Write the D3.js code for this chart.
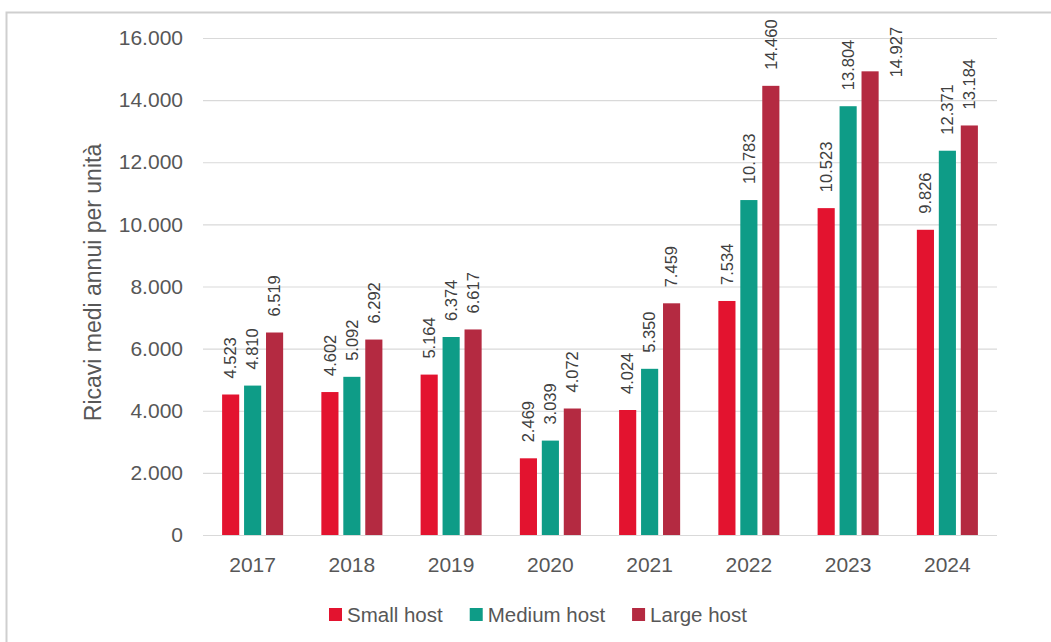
<!DOCTYPE html>
<html>
<head>
<meta charset="utf-8">
<script src="https://cdn.jsdelivr.net/npm/d3@7"></script>
<style>
  html, body { margin: 0; padding: 0; background: #fff; }
  svg { display: block; font-family: "Liberation Sans", Arial, Helvetica, sans-serif; }
</style>
</head>
<body>
<svg id="chart" width="1051" height="642"></svg>
<script>
const years = ["2017", "2018", "2019", "2020", "2021", "2022", "2023", "2024"];
const seriesNames = ["Small host", "Medium host", "Large host"];
const smallHost  = [4523, 4602, 5164, 2469, 4024, 7534, 10523, 9826];
const mediumHost = [4810, 5092, 6374, 3039, 5350, 10783, 13804, 12371];
const largeHost  = [6519, 6292, 6617, 4072, 7459, 14460, 14927, 13184];
const yTicks = [0, 2000, 4000, 6000, 8000, 10000, 12000, 14000, 16000];
const yTitle = "Ricavi medi annui per unità";
const colors = ["#E3132F", "#0E9C87", "#B42A41"];

const seriesValues = [smallHost, mediumHost, largeHost];

const svg = d3.select("#chart");
const W = 1051, H = 642;
const plot = { left: 203, right: 997, top: 38, bottom: 535 };

// outer frame
svg.append("rect")
  .attr("x", 6.5).attr("y", 12.5)
  .attr("width", W + 50).attr("height", H + 50)
  .attr("fill", "none").attr("stroke", "#cfcfcf").attr("stroke-width", 2);

const fmt = v => d3.format(",")(v).replace(/,/g, ".");

const y = d3.scaleLinear().domain([0, 16000]).range([plot.bottom, plot.top]);
const x0 = d3.scaleBand().domain(years).range([plot.left, plot.right]).paddingInner(0.385).paddingOuter(0.1925);
const x1 = d3.scaleBand().domain(seriesNames).range([0, x0.bandwidth()]).paddingInner(0.22);

// gridlines
const yAxis = d3.axisLeft(y).tickValues(yTicks).tickSize(-(plot.right - plot.left)).tickPadding(20).tickFormat(fmt);
const gy = svg.append("g").attr("transform", `translate(${plot.left},0)`).call(yAxis);
gy.select(".domain").remove();
gy.selectAll(".tick line").attr("stroke", "#d9d9d9").attr("stroke-width", 1.2);
gy.selectAll(".tick text").attr("fill", "#575757").attr("font-size", 21);

// x axis labels
const xAxis = d3.axisBottom(x0).tickSize(0).tickPadding(22);
const gx = svg.append("g").attr("transform", `translate(0,${plot.bottom})`).call(xAxis);
gx.select(".domain").remove();
gx.selectAll(".tick text").attr("fill", "#575757").attr("font-size", 21);

// y title
svg.append("text")
  .attr("transform", `translate(101,${(plot.top + plot.bottom) / 2 - 4}) rotate(-90)`)
  .attr("text-anchor", "middle")
  .attr("fill", "#575757").attr("font-size", 23)
  .text(yTitle);

// bars
const data = [];
years.forEach((yr, i) => {
  seriesNames.forEach((s, j) => {
    data.push({ year: yr, series: s, value: seriesValues[j][i], j });
  });
});

svg.append("g").selectAll("rect").data(data).join("rect")
  .attr("x", d => x0(d.year) + x1(d.series))
  .attr("y", d => y(d.value))
  .attr("width", x1.bandwidth())
  .attr("height", d => y(0) - y(d.value))
  .attr("fill", d => colors[d.j]);

// value labels
const labelSize = 16.5;
const labelGap = 16;
const lg = svg.append("g");
data.forEach(d => {
  const cx = x0(d.year) + x1(d.series) + x1.bandwidth() / 2;
  const t = lg.append("text")
    .attr("font-size", labelSize).attr("fill", "#404040")
    .attr("text-anchor", "start")
    .text(fmt(d.value));
  const len = t.node().getComputedTextLength();
  let bx = cx, by = y(d.value) - labelGap;
  if (by - len < 14) {
    // not enough room above: place beside the bar
    bx = cx + x1.step() + 4;
    by = y(d.value) + 6;
  }
  t.attr("transform", `translate(${bx + labelSize * 0.35},${by}) rotate(-90)`);
});

// legend
const legend = svg.append("g");
let lx = 329;
seriesNames.forEach((s, j) => {
  legend.append("rect").attr("x", lx).attr("y", 608).attr("width", 13).attr("height", 13).attr("fill", colors[j]);
  const t = legend.append("text").attr("x", lx + 18).attr("y", 622)
    .attr("font-size", 20.5).attr("fill", "#575757").text(s);
  lx += 18 + t.node().getComputedTextLength() + 27;
});
</script>
</body>
</html>
